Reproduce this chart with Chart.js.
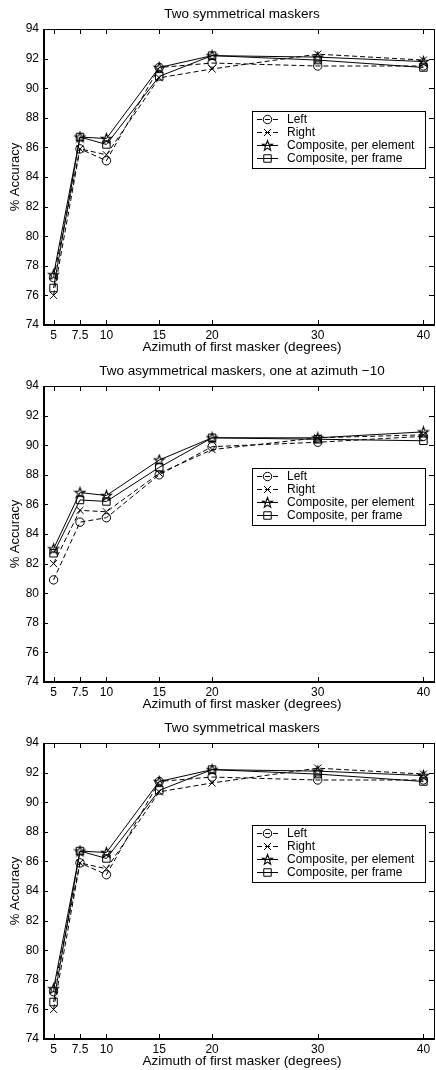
<!DOCTYPE html>
<html>
<head>
<meta charset="utf-8">
<script src="https://cdn.jsdelivr.net/npm/chart.js@4.4.1/dist/chart.umd.min.js"></script>
<style>
  body { margin: 0; background: #fff; }
  .panel { width: 436px; height: 357px; overflow: hidden; position: relative; }
  .panel canvas { position: absolute; left: 0; top: 0; }
</style>
</head>
<body>
<div class="panel"><canvas id="sym1" width="441" height="357"></canvas></div>
<div class="panel"><canvas id="asym" width="441" height="357"></canvas></div>
<div class="panel" style="height:356px"><canvas id="sym2" width="441" height="357"></canvas></div>
<script>
// x values (azimuth of first masker, degrees)
const azimuths = [5, 7.5, 10, 15, 20, 30, 40];
const xTicks = [5, 7.5, 10, 15, 20, 30, 40];
const yTicks = [74, 76, 78, 80, 82, 84, 86, 88, 90, 92, 94];
const seriesNames = ["Left", "Right", "Composite, per element", "Composite, per frame"];

// two symmetrical maskers
const symLeft = [77.2, 85.9, 85.1, 91.4, 91.7, 91.5, 91.5];
const symRight = [76.0, 85.9, 85.5, 90.7, 91.3, 92.3, 91.9];
const symElement = [77.4, 86.7, 86.6, 91.4, 92.2, 92.1, 91.8];
const symFrame = [76.5, 86.7, 86.2, 90.8, 92.2, 91.9, 91.4];

// two asymmetrical maskers, one at -10
const asymLeft = [80.9, 84.8, 85.1, 88.0, 89.9, 90.2, 90.6];
const asymRight = [82.0, 85.6, 85.5, 88.1, 89.7, 90.5, 90.7];
const asymElement = [83.0, 86.8, 86.6, 89.0, 90.5, 90.5, 90.9];
const asymFrame = [82.7, 86.3, 86.2, 88.5, 90.5, 90.4, 90.3];

const FONT = "'Liberation Sans', Arial, Helvetica, sans-serif";

// pentagram marker (Chart.js 'star' is an asterisk)
function makeStar() {
  const c = document.createElement("canvas");
  c.width = 13; c.height = 13;
  const g = c.getContext("2d");
  g.strokeStyle = "#000";
  g.lineWidth = 1.1;
  g.beginPath();
  for (let i = 0; i < 10; i++) {
    const r = i % 2 === 0 ? 5.4 : 2.2;
    const a = -Math.PI / 2 + i * Math.PI / 5;
    const px = 6.5 + r * Math.cos(a), py = 6.9 + r * Math.sin(a);
    if (i === 0) g.moveTo(px, py); else g.lineTo(px, py);
  }
  g.closePath();
  g.stroke();
  return c;
}
const starImg = makeStar();

function drawMarker(ctx, style, r, x, y) {
  ctx.beginPath();
  if (style instanceof HTMLCanvasElement) {
    ctx.drawImage(style, x - style.width / 2, y - style.height / 2);
    return;
  } else if (style === "circle") {
    ctx.arc(x, y, r, 0, Math.PI * 2);
  } else if (style === "crossRot") {
    const o = r * Math.SQRT1_2;
    ctx.moveTo(x - o, y - o); ctx.lineTo(x + o, y + o);
    ctx.moveTo(x - o, y + o); ctx.lineTo(x + o, y - o);
  } else if (style === "rect") {
    const s = r * Math.SQRT1_2;
    ctx.rect(x - s, y - s, 2 * s, 2 * s);
  }
  ctx.stroke();
}

const framePlugin = {
  id: "frame",
  afterDraw(chart, args, opts) {
    const { ctx, chartArea: a, scales } = chart;
    const x = scales.x, y = scales.y;
    ctx.save();
    ctx.strokeStyle = "#000";
    ctx.fillStyle = "#000";
    ctx.lineWidth = 1;
    ctx.setLineDash([]);
    // box
    ctx.strokeRect(a.left + 0.5, a.top + 0.5, a.right - a.left, a.bottom - a.top);
    ctx.beginPath();
    ctx.moveTo(a.left + 1.5, a.top); ctx.lineTo(a.left + 1.5, a.bottom + 1);
    ctx.moveTo(a.left, a.bottom - 0.5); ctx.lineTo(a.right, a.bottom - 0.5);
    ctx.stroke();
    // inward ticks
    ctx.beginPath();
    xTicks.forEach(v => {
      const px = Math.round(x.getPixelForValue(v)) + 0.5;
      ctx.moveTo(px, a.bottom); ctx.lineTo(px, a.bottom - 5);
      ctx.moveTo(px, a.top); ctx.lineTo(px, a.top + 5);
    });
    yTicks.forEach(v => {
      const py = Math.round(y.getPixelForValue(v)) + 0.5;
      ctx.moveTo(a.left, py); ctx.lineTo(a.left + 5, py);
      ctx.moveTo(a.right, py); ctx.lineTo(a.right - 5, py);
    });
    ctx.stroke();

    // titles
    const cx = (a.left + 437) / 2 + 2;
    ctx.textAlign = "center";
    ctx.textBaseline = "middle";
    ctx.font = "13.5px " + FONT;
    ctx.fillText(opts.title, cx, 14.5);
    ctx.fillText("Azimuth of first masker (degrees)", cx, 347);
    ctx.save();
    ctx.translate(15, (a.top + a.bottom) / 2);
    ctx.rotate(-Math.PI / 2);
    ctx.font = "13px " + FONT;
    ctx.fillText("% Accuracy", 0, 0);
    ctx.restore();

    // legend
    const lx = 252, ly = 111, lw = 173, lh = 57;
    ctx.fillStyle = "#fff";
    ctx.fillRect(lx, ly, lw, lh);
    ctx.strokeRect(lx + 0.5, ly + 0.5, lw, lh);
    ctx.font = "12px " + FONT;
    ctx.textAlign = "left";
    chart.data.datasets.forEach((ds, i) => {
      const ry = ly + 8.5 + i * 13;
      ctx.setLineDash(ds.borderDash || []);
      ctx.beginPath();
      ctx.moveTo(257, ry); ctx.lineTo(278, ry);
      ctx.stroke();
      ctx.setLineDash([]);
      drawMarker(ctx, ds.pointStyle, ds.pointRadius, 267.5, ry);
      ctx.fillStyle = "#000";
      ctx.fillText(ds.label, 287, ry + 0.5);
    });
    ctx.restore();
  }
};

function series(label, values, dashed, style, radius) {
  return {
    label: label,
    data: azimuths.map((az, i) => ({ x: az, y: values[i] })),
    showLine: true,
    borderColor: "#000",
    borderWidth: 1,
    borderDash: dashed ? [5, 3] : [],
    pointStyle: style,
    pointRadius: radius,
    pointHoverRadius: radius,
    pointBorderColor: "#000",
    pointBorderWidth: 1,
    pointBackgroundColor: "rgba(0,0,0,0)",
    tension: 0
  };
}

function makeChart(id, title, left, right, element, frame) {
  new Chart(document.getElementById(id), {
    type: "scatter",
    data: {
      datasets: [
        series(seriesNames[0], left, true, "circle", 4.2),
        series(seriesNames[1], right, true, "crossRot", 5),
        series(seriesNames[2], element, false, starImg, 6),
        series(seriesNames[3], frame, false, "rect", 5.3)
      ]
    },
    options: {
      responsive: false,
      animation: false,
      layout: { padding: { left: 0, right: 4, top: 29, bottom: 0 } },
      plugins: {
        legend: { display: false },
        tooltip: { enabled: false },
        frame: { title: title }
      },
      scales: {
        x: {
          type: "linear",
          min: 4,
          max: 41,
          border: { display: false },
          grid: { display: false, drawTicks: false },
          afterBuildTicks: s => { s.ticks = xTicks.map(v => ({ value: v })); },
          afterFit: s => { s.height = 32; },
          ticks: {
            autoSkip: false,
            maxRotation: 0,
            padding: 3.5,
            color: "#000",
            font: { family: FONT, size: 12 },
            callback: v => String(v)
          }
        },
        y: {
          min: 74,
          max: 94,
          border: { display: false },
          grid: { display: false, drawTicks: false },
          afterFit: s => { s.width = 43; },
          ticks: {
            stepSize: 2,
            autoSkip: false,
            padding: 4,
            color: "#000",
            font: { family: FONT, size: 12 }
          }
        }
      }
    },
    plugins: [framePlugin]
  });
}

makeChart("sym1", "Two symmetrical maskers", symLeft, symRight, symElement, symFrame);
makeChart("asym", "Two asymmetrical maskers, one at azimuth \u221210", asymLeft, asymRight, asymElement, asymFrame);
makeChart("sym2", "Two symmetrical maskers", symLeft, symRight, symElement, symFrame);
</script>
</body>
</html>
